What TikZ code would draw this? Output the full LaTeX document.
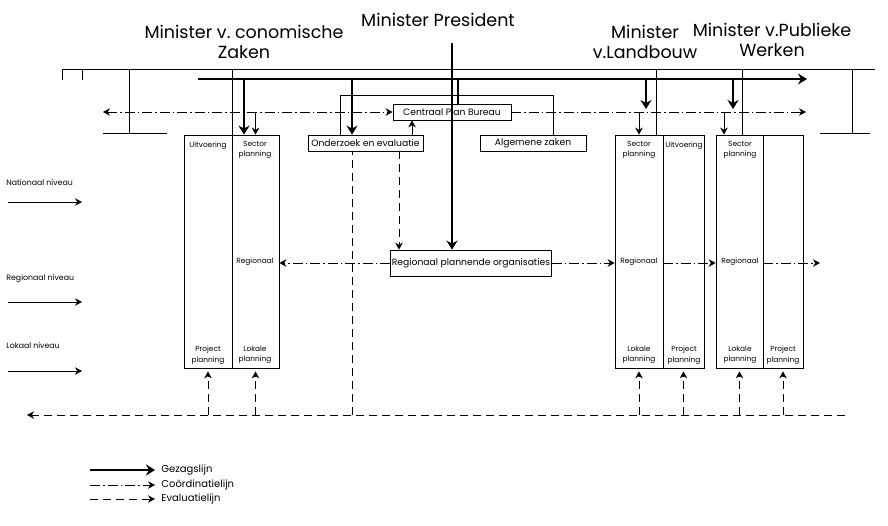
\documentclass[tikz,border=0pt]{standalone}
\usepackage{fontspec}
\setmainfont{Poppins}
\usetikzlibrary{arrows.meta}

\begin{document}
\begin{tikzpicture}[x=1pt, y=-1pt, line width=0.8pt, >={Stealth[length=7pt,width=7.5pt]},
  every node/.style={inner sep=1pt},
  box/.style={draw, minimum height=16pt, font=\fontsize{9.2}{11}\selectfont},
  col/.style={draw, minimum height=233pt},
  lbl/.style={align=center, font=\fontsize{7.4}{10.5}\selectfont},
  titel/.style={align=center, font=\fontsize{17.5}{20}\selectfont},
  niveau/.style={anchor=west, font=\fontsize{7.8}{9}\selectfont},
  legenda/.style={anchor=west, font=\fontsize{10}{11}\selectfont},
  gezag/.style={line width=2.6pt, >={Stealth[length=9pt,width=11pt]}},
  coord/.style={dash pattern=on 10pt off 3pt on 1.5pt off 3pt},
  eval/.style={line width=1pt, dash pattern=on 8pt off 5pt}]
\useasboundingbox (0,0) rectangle (888,525);
\node[titel] (mez) at (244,42) {Minister v.\ conomische\\Zaken};
\node[titel] (mp) at (438,20) {Minister President};
\node[titel] (mlb) at (645,42) {Minister\\v.Landbouw};
\node[titel] (mpw) at (772,40) {Minister v.Publieke\\Werken};
\coordinate (top) at (62,69);
\draw (62,80) -- (top) -- (875,69);
\draw (82,69) -- (82,80);
\draw (129,69) -- (129,133) (103,133) -- (167,133);
\draw (852,69) -- (852,133) (820,133) -- (870,133);
\node[col, minimum width=48pt] (lu) at (208,251.5) {};
\node[col, minimum width=47pt] (ls) at (255.5,251.5) {};
\node[col, minimum width=48pt] (as) at (639,251.5) {};
\node[col, minimum width=41pt] (au) at (683.5,251.5) {};
\node[col, minimum width=47pt] (bs) at (739.5,251.5) {};
\node[col, minimum width=40pt] (bu) at (783,251.5) {};
\coordinate (v1) at (656,69);
\coordinate (v2) at (742,69);
\draw (lu.north east |- top) -- (lu.north east);
\draw (v1) -- (v1 |- as.north);
\draw (v2) -- (v2 |- bs.north);
\node[box, minimum width=118pt] (cpb) at (452,112) {Centraal Plan Bureau};
\node[box, minimum width=115pt] (oe) at (365.5,143) {Onderzoek en evaluatie};
\node[box, minimum width=106pt] (az) at (533,143) {Algemene zaken};
\node[box, minimum width=160pt, minimum height=26pt] (rpo) at (471,263) {Regionaal plannende organisaties};
\coordinate (b1) at (340,95);
\coordinate (b2) at (553,95);
\draw (b1 |- oe.north) -- (b1) -- (b2) -- (b2 |- az.north);
% gezagslijnen
\coordinate (g0) at (198,79);
\coordinate (g1) at (807,79);
\coordinate (g2) at (244,79);
\coordinate (g3) at (352,79);
\coordinate (g4) at (458,79);
\coordinate (g5) at (646,79);
\coordinate (g6) at (733,79);
\coordinate (mp0) at (452,43);
\coordinate (c0) at (103,112);
\coordinate (c1) at (806,112);
\draw[gezag,->] (g0) -- (g1);
\draw[gezag,->] (mp0) -- (mp0 |- rpo.north);
\draw[gezag,->] (g2) -- (g2 |- ls.north);
\draw[gezag,->] (g3) -- (g3 |- oe.north);
\draw[gezag] (g4) -- (g4 |- cpb.north);
\draw[gezag,->] (g5) -- ([yshift=3pt]g5 |- c0);
\draw[gezag,->] (g6) -- ([yshift=3pt]g6 |- c0);
% coordinatielijnen
\coordinate (k1) at (724,112);
\coordinate (u1) at (412,128);
\coordinate (r1) at (820,263);
\draw[coord,<->] (c0) -- (cpb.west);
\draw[coord,->] (cpb.east) -- (c1);
\draw[->] (ls.north |- c0) -- (ls.north);
\draw[->] (as.north |- c0) -- (as.north);
\draw[->] (k1) -- (k1 |- bs.north);
\draw[->] (u1 |- oe.north) -- (u1 |- cpb.south);
\draw[coord,->] (rpo.west) -- (rpo.west -| ls.east);
\draw[coord,->] (rpo.east) -- (rpo.east -| as.west);
\draw[coord,->] (as.east |- rpo.east) -- (bs.west |- rpo.east);
\draw[coord,->] (bs.east |- rpo.east) -- (r1);
% evaluatielijnen
\coordinate (e0) at (845,415);
\coordinate (e1) at (27,415);
\coordinate (e2) at (352,415);
\coordinate (e3) at (399,200);
\draw[eval,->] (e0) -- (e1);
\draw[eval] (e2) -- (e2 |- oe.south);
\draw[eval,->] (e3 |- oe.south) -- (e3 |- rpo.north);
\foreach \c in {lu,ls,as,au,bs,bu}
  \draw[eval,->,shorten >=3pt] (\c.south |- e0) -- (\c.south);
\node[lbl] (t1) at (208,146) {Uitvoering};
\node[lbl] (t2) at (255,150) {Sector\\planning};
\node[lbl] (t3) at (255,262) {Regionaal};
\node[lbl] (t4) at (208,355) {Project\\planning};
\node[lbl] (t5) at (255,355) {Lokale\\planning};
\node[lbl] (t6) at (639,150) {Sector\\planning};
\node[lbl] (t7) at (684,146) {Uitvoering};
\node[lbl] (t8) at (639,262) {Regionaal};
\node[lbl] (t9) at (639,355) {Lokale\\planning};
\node[lbl] (t10) at (684,355) {Project\\planning};
\node[lbl] (t11) at (740,150) {Sector\\planning};
\node[lbl] (t12) at (740,262) {Regionaal};
\node[lbl] (t13) at (740,355) {Lokale\\planning};
\node[lbl] (t14) at (783,355) {Project\\planning};
\node[niveau] (nn) at (5,183) {Nationaal niveau};
\node[niveau] (rn) at (5,279) {Regionaal niveau};
\node[niveau] (ln) at (5,346) {Lokaal niveau};
\coordinate (n0) at (8,202);
\coordinate (n1) at (8,302);
\coordinate (n2) at (8,371);
\draw[->] (n0) -- ++(74,0);
\draw[->] (n1) -- ++(74,0);
\draw[->] (n2) -- ++(74,0);
\node[legenda] (l1) at (160,470) {Gezagslijn};
\node[legenda] (l2) at (160,485) {Coördinatielijn};
\node[legenda] (l3) at (160,499) {Evaluatielijn};
\coordinate (s1) at (90,470);
\coordinate (s2) at (90,485);
\coordinate (s3) at (90,499);
\draw[gezag,->,line width=2pt,shorten >=5pt] (s1) -- (s1 -| l1.west);
\draw[coord,->,shorten >=5pt] (s2) -- (s2 -| l2.west);
\draw[eval,->,shorten >=5pt] (s3) -- (s3 -| l3.west);
\end{tikzpicture}
\end{document}
